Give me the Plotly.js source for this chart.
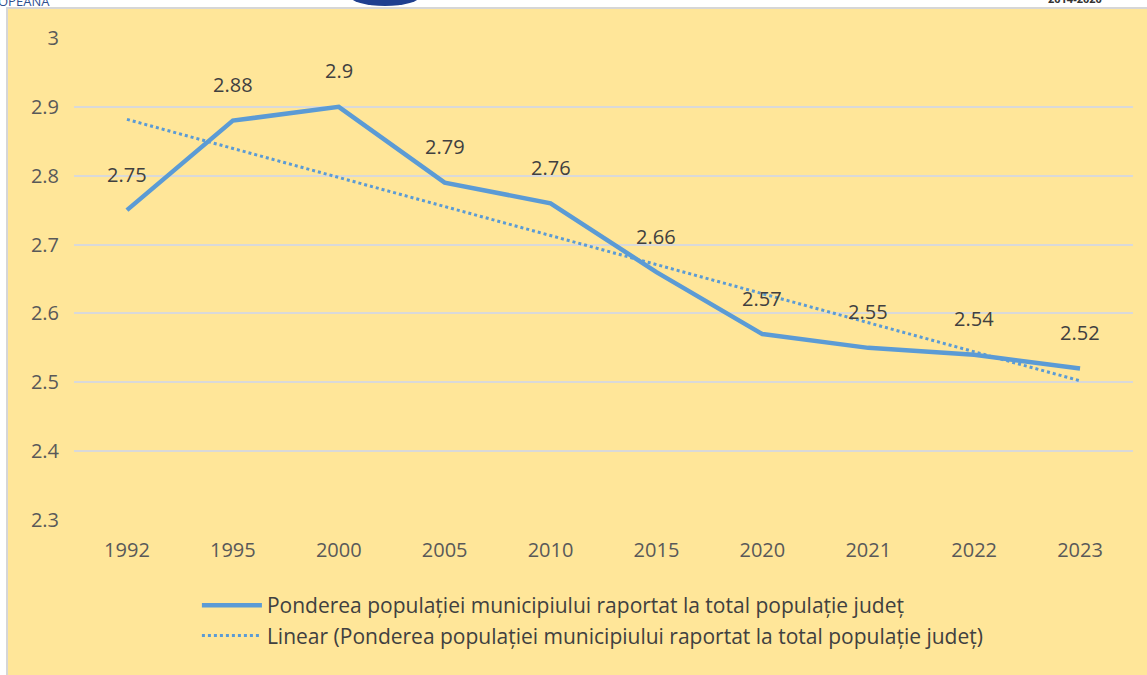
<!DOCTYPE html>
<html><head><meta charset="utf-8">
<script src="https://cdn.plot.ly/plotly-3.0.1.min.js"></script>
<style>
html,body{margin:0;padding:0;background:#fff;width:1147px;height:675px;overflow:hidden;font-family:"Open Sans",sans-serif;}
#hdr{position:absolute;left:0;top:0;width:1147px;height:8px;overflow:hidden;background:#fff;}
#chart{position:absolute;left:8px;top:9px;width:1139px;height:666px;}
#frame{position:absolute;left:6px;top:7px;width:1141px;height:668px;border-left:2px solid #d6d6d6;border-top:2px solid #d6d6d6;box-sizing:border-box;}
</style></head>
<body>
<div id="hdr">
<span style="position:absolute;left:-2px;top:-8px;font-size:13px;color:#2f4f8f;">OPEANA</span>
<span style="position:absolute;left:350px;top:-14px;width:70px;height:20px;border-radius:50%;background:#1f3f8f;"></span>
<span style="position:absolute;left:1048px;top:-9px;font-size:11px;color:#333;font-weight:bold;">2014-2020</span>
</div>
<div id="frame"></div>
<div id="chart"></div>
<script>
const years = ["1992","1995","2000","2005","2010","2015","2020","2021","2022","2023"];
const share = [2.75, 2.88, 2.9, 2.79, 2.76, 2.66, 2.57, 2.55, 2.54, 2.52];
const seriesName = "Ponderea populației municipiului raportat la total populație județ";

// Linear trend (least squares on category index, as in the spreadsheet trendline)
const n = share.length;
const idx = share.map((_, i) => i + 1);
const mx = idx.reduce((a, b) => a + b, 0) / n;
const my = share.reduce((a, b) => a + b, 0) / n;
let sxy = 0, sxx = 0;
for (let i = 0; i < n; i++) { sxy += (idx[i] - mx) * (share[i] - my); sxx += (idx[i] - mx) ** 2; }
const slope = sxy / sxx, icpt = my - slope * mx;
const trend = idx.map(x => icpt + slope * x);

const blue = "#5B9BD5";
const font = "Open Sans, sans-serif";

const traces = [
  {x: years, y: share, type: "scatter", mode: "lines", name: seriesName,
   line: {color: blue, width: 4.5}, hoverinfo: "x+y"},
  {x: years, y: trend, type: "scatter", mode: "lines", name: "Linear (" + seriesName + ")",
   line: {color: blue, width: 3, dash: "dot"}, hoverinfo: "skip"}
];

const annotations = years.map((yr, i) => ({
  x: i, y: share[i], xref: "x", yref: "y", text: String(share[i]),
  showarrow: false, yshift: 36, font: {family: font, size: 20, color: "#404040"}
}));

const layout = {
  width: 1139, height: 666,
  paper_bgcolor: "#FFE699", plot_bgcolor: "#FFE699",
  margin: {l: 66, r: 14, t: 29, b: 155},
  showlegend: true,
  legend: {orientation: "v", x: 0.49, xanchor: "center", y: -0.135, yanchor: "top",
           font: {family: font, size: 21, color: "#404040"}, itemwidth: 60,
           bgcolor: "rgba(0,0,0,0)"},
  xaxis: {type: "category", range: [-0.5, years.length - 0.5], showgrid: false, zeroline: false,
          showline: false, ticks: "",
          tickfont: {family: font, size: 20, color: "#595959"}, ticklabelstandoff: 16},
  yaxis: {range: [2.3, 3.0], dtick: 0.1, tick0: 2.3, showgrid: true, gridcolor: "#d9d9d9", gridwidth: 2,
          zeroline: false, showline: false, ticks: "",
          tickfont: {family: font, size: 20, color: "#595959"}, ticklabelstandoff: 14},
  annotations: annotations
};

Plotly.newPlot("chart", traces, layout, {displayModeBar: false, responsive: false});
</script>
</body></html>
